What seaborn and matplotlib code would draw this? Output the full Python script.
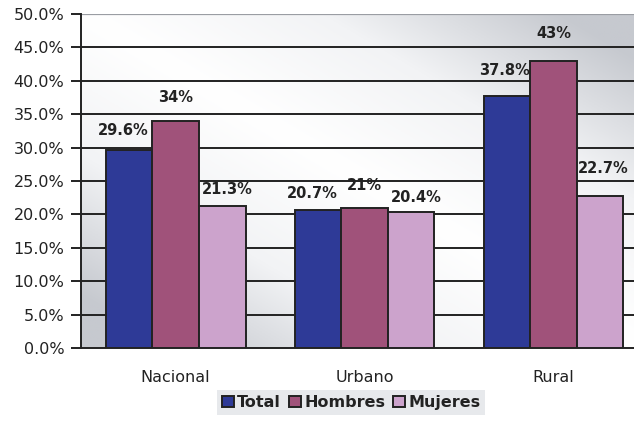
import matplotlib
matplotlib.use("Agg")
import matplotlib.pyplot as plt
from matplotlib.colors import LinearSegmentedColormap
import numpy as np
import pandas as pd
import seaborn as sns

categorias = ['Nacional', 'Urbano', 'Rural']
series = ['Total', 'Hombres', 'Mujeres']
total = [29.6, 20.7, 37.8]
hombres = [34.0, 21.0, 43.0]
mujeres = [21.3, 20.4, 22.7]
etiquetas = [['29.6%', '20.7%', '37.8%'],
             ['34%', '21%', '43%'],
             ['21.3%', '20.4%', '22.7%']]
colores = ['#2E3A97', '#A0527A', '#CCA3CC']

# label offsets above bar tops (points) and horizontal nudges (points)
dy_lbl = [[14, 12, 18], [17, 16, 20], [12, 10, 20]]
dx_lbl = [[-4, -4, -2], [0, 0, 0], [4, 4, 2]]

df = pd.DataFrame({
    'categoria': categorias * 3,
    'serie': [s for s in series for _ in categorias],
    'valor': total + hombres + mujeres,
})

sns.set_style('white')
plt.rcParams['font.family'] = ['DejaVu Sans']

fig = plt.figure(figsize=(6.34, 4.25), dpi=100)
ax = fig.add_axes([0.128, 0.181, 0.894, 0.786])

# diagonal grey/white gradient background
gx, gy = np.meshgrid(np.linspace(0, 1, 200), np.linspace(0, 1, 200))
grad = np.abs(gx - gy)
cmap_bg = LinearSegmentedColormap.from_list('bg', ['#FFFFFF', '#F2F3F5', '#C6C9CF'])
ax.imshow(grad, extent=[-0.5, 2.5, 0, 50], aspect='auto', cmap=cmap_bg,
          vmin=0, vmax=0.85, zorder=0, origin='upper')

sns.barplot(data=df, x='categoria', y='valor', hue='serie', palette=colores,
            width=0.74, gap=0, edgecolor='#222222', linewidth=1.4,
            saturation=1, ax=ax, zorder=3, legend=True)

ax.set_xlim(-0.5, 2.5)
ax.set_ylim(0, 50)
ax.set_yticks(np.arange(0, 51, 5))
ax.set_yticklabels([f'{v:.1f}%' for v in np.arange(0, 51, 5)], fontsize=11.5,
                   color='#222222')
for yv in np.arange(5, 50, 5):
    ax.axhline(yv, color='#222222', linewidth=1.4, zorder=1)
ax.axhline(50, color='#9A9DA3', linewidth=1.6, zorder=1)

ax.set_xticks([-0.5, 0.5, 1.5])
ax.set_xticklabels(['', '', ''])
ax.set_xticks([0, 1, 2], minor=True)
ax.set_xticklabels(categorias, minor=True, fontsize=11.5, color='#222222')
ax.tick_params(axis='x', which='minor', length=0, pad=16)
ax.tick_params(axis='x', which='major', length=7, width=1.4, color='#222222', direction='out')
ax.tick_params(axis='y', length=7, width=1.4, color='#222222', direction='out',
               left=True, pad=5)
ax.set_xlabel('')
ax.set_ylabel('')

for s in ['top', 'right']:
    ax.spines[s].set_visible(False)
for s in ['left', 'bottom']:
    ax.spines[s].set_color('#222222')
    ax.spines[s].set_linewidth(1.4)

offsets = [-0.2467, 0, 0.2467]
vals = [total, hombres, mujeres]
for i in range(3):
    for j in range(3):
        ax.annotate(etiquetas[i][j], (j + offsets[i], vals[i][j]),
                    xytext=(dx_lbl[i][j], dy_lbl[i][j]), textcoords='offset points',
                    ha='center', va='center', fontsize=10.5, fontweight='bold',
                    color='#222222', zorder=5)

handles, labels = ax.get_legend_handles_labels()
ax.get_legend().remove()
leg = fig.legend(handles, labels, loc='lower center', bbox_to_anchor=(0.554, 0.005),
                 ncol=3, frameon=True, fontsize=11.5, handlelength=0.75,
                 handleheight=0.75, handletextpad=0.2, columnspacing=0.5,
                 borderpad=0.3, fancybox=False)
leg.get_frame().set_facecolor('#E2E4E8')
leg.get_frame().set_edgecolor('none')
for t in leg.get_texts():
    t.set_fontweight('bold')
    t.set_color('#222222')

fig.savefig('out.png', dpi=100)
